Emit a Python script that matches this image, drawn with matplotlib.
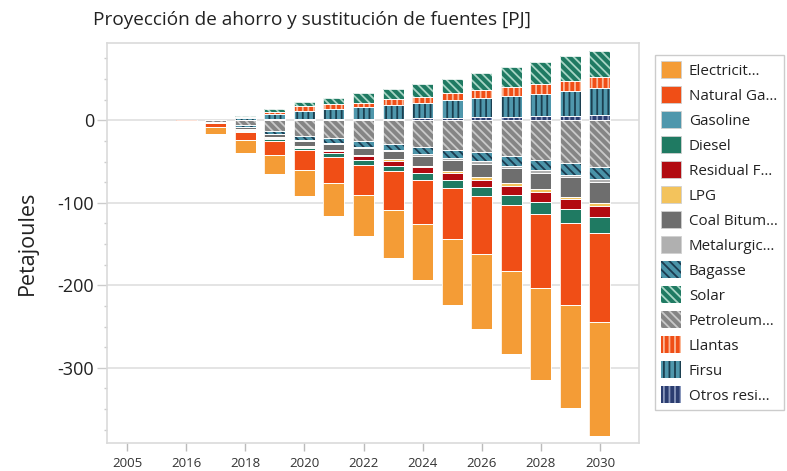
import matplotlib
matplotlib.use("Agg")
import matplotlib.pyplot as plt
from matplotlib.patches import Patch
from matplotlib.ticker import MultipleLocator, FixedLocator
import numpy as np

plt.rcParams['font.family'] = ['Open Sans', 'DejaVu Sans']
plt.rcParams['axes.unicode_minus'] = False
plt.rcParams['hatch.linewidth'] = 1.3

years = ["2005", "2015", "2016", "2017", "2018", "2019", "2020", "2021", "2022",
         "2023", "2024", "2025", "2026", "2027", "2028", "2029", "2030"]

electricity = [0, 0, -1.0, -8.2, -15.2, -23.5, -31.5, -40.0, -49.8, -59.0, -68.7,
               -79.7, -90.2, -100.9, -111.8, -125.1, -137.8]
natural_gas = [0, 0, -0.3, -4.8, -10.0, -16.5, -23.5, -31.5, -37.0, -46.6, -53.4,
               -62.2, -70.3, -79.7, -89.3, -99.5, -107.9]
gasoline = [0] * 17
diesel = [0, 0, 0, -0.6, -1.5, -2.2, -2.5, -5.0, -5.7, -6.9, -8.0,
          -9.7, -11.7, -12.9, -15.3, -16.5, -19.8]
residual = [0, 0, 0, -0.3, -1.2, -1.8, -2.0, -2.4, -4.4, -6.0, -6.7,
            -8.1, -8.5, -10.5, -11.7, -12.1, -12.6]
lpg = [0, 0, 0, -0.1, -0.3, -0.5, -0.8, -1.0, -1.2, -1.8, -2.2,
       -2.4, -2.8, -3.2, -3.3, -3.3, -3.6]
coal = [0, 0, 0, -0.5, -2.5, -3.5, -6.0, -7.0, -9.3, -9.7, -12.3,
        -13.3, -16.2, -18.6, -19.8, -23.4, -25.9]
metalurgic = [0, 0, 0, -0.2, -0.8, -1.0, -1.2, -1.6, -1.3, -1.6, -2.2,
              -2.8, -3.2, -2.8, -4.0, -3.2, -3.6]
bagasse = [0, 0, 0, -0.6, -1.7, -3.4, -5.2, -5.5, -6.6, -6.9, -8.0,
           -10.1, -10.9, -11.4, -12.1, -14.2, -14.5]
solar = [0, 0, 0, 0.1, 0.3, 2.8, 4.6, 7.5, 11.0, 12.0, 16.0,
         17.4, 21.0, 23.8, 27.1, 29.6, 32.3]
petroleum = [0, 0, 0, -1.5, -6.0, -12.7, -18.8, -22.0, -25.3, -29.0, -32.5,
             -35.6, -38.8, -43.6, -47.7, -51.7, -56.6]
llantas = [0, 0, 0, 0.1, 1.2, 3.0, 5.5, 6.0, 6.0, 7.3, 7.6,
           8.9, 9.7, 10.5, 11.3, 12.1, 12.9]
firsu = [0, 0, 0, 0.3, 3.0, 6.5, 10.3, 12.0, 13.7, 16.6, 17.8,
         21.0, 22.7, 25.9, 27.0, 30.7, 33.1]
otros = [0, 0, 0, 0.1, 0.3, 1.0, 1.4, 1.5, 1.8, 1.6, 2.6,
         3.2, 4.0, 4.0, 5.3, 5.3, 6.1]

labels = ["Electricit…", "Natural Ga…", "Gasoline", "Diesel", "Residual F…", "LPG",
          "Coal Bitum…", "Metalurgic…", "Bagasse", "Solar", "Petroleum…",
          "Llantas", "Firsu", "Otros resi…"]
values = [electricity, natural_gas, gasoline, diesel, residual, lpg, coal,
          metalurgic, bagasse, solar, petroleum, llantas, firsu, otros]
faces = ['#F49C36', '#F04E16', '#4F97AC', '#1F7A62', '#B20A10', '#F3C35C',
         '#6E6E6E', '#B0B0B0', '#4A93A8', '#1F7A62', '#858585', '#F04E16',
         '#4F97AC', '#2B3D70']
hatches = [None, None, None, None, None, None, None, None,
           '\\\\\\\\', '\\\\\\\\', '\\\\\\\\', '|||', '|||', '|||']
hatch_colors = [None, None, None, None, None, None, None, None,
                '#1B3B50', '#A8D5C5', '#C9C9C9', '#FAB898', '#1B3F50', '#8A98BC']

fig = plt.figure(figsize=(7.87, 4.71), dpi=100)
ax = fig.add_axes([106.7 / 787, 1 - 443.3 / 471, (639.3 - 106.7) / 787, 400.0 / 471])

x = np.arange(len(years))
width = 0.71
pos_base = np.zeros(len(years))
neg_base = np.zeros(len(years))

for i in reversed(range(len(values))):
    v = np.array(values[i], dtype=float)
    base = np.where(v >= 0, pos_base, neg_base)
    mask = v != 0
    if mask.any():
        kw = dict(linewidth=0)
        if hatches[i]:
            kw.update(hatch=hatches[i], edgecolor=hatch_colors[i])
        ax.bar(x[mask], v[mask], bottom=base[mask], width=width,
               color=faces[i], zorder=3, **kw)
        ax.bar(x[mask], v[mask], bottom=base[mask], width=width,
               facecolor='none', edgecolor='#FFFFFF', linewidth=0.6, zorder=4)
    pos_base = pos_base + np.where(v > 0, v, 0)
    neg_base = neg_base + np.where(v < 0, v, 0)

ax.set_xlim(-0.69, 17.33)
ax.set_ylim(-391.5, 93.3)

ax.set_xticks(x[::2])
ax.set_xticklabels(years[::2], fontsize=9.5, color='#333333')
ax.yaxis.set_major_locator(FixedLocator([-300, -200, -100, 0]))
ax.yaxis.set_minor_locator(MultipleLocator(25))
ax.set_yticklabels(["-300", "-200", "-100", "0"], fontsize=13, color='#222222')
ax.tick_params(axis='x', length=6, color='#BBBBBB', width=1, pad=4)
ax.tick_params(axis='y', which='major', length=7, color='#CCCCCC', width=1, pad=2)
ax.tick_params(axis='y', which='minor', length=2, color='#CCCCCC', width=1)

ax.grid(axis='y', which='major', color='#E2E2E2', linewidth=1.3, zorder=0)
ax.set_axisbelow(True)
for s in ax.spines.values():
    s.set_color('#DADADA')
    s.set_linewidth(1.2)

ax.set_ylabel("Petajoules", fontsize=15.5, color='#222222', labelpad=14)

fig.text(312 / 787, 1 - 20 / 471, "Proyección de ahorro y sustitución de fuentes [PJ]",
         ha='center', va='center', fontsize=13.7, color='#222222')

handles = []
for i in range(len(labels)):
    if hatches[i]:
        handles.append(Patch(facecolor=faces[i], edgecolor=hatch_colors[i],
                             hatch=hatches[i], linewidth=0))
    else:
        handles.append(Patch(facecolor=faces[i], edgecolor='#D0D0D0', linewidth=0.6))

leg = fig.legend(handles, labels, loc='upper left',
                 bbox_to_anchor=(655 / 787, 1 - 55 / 471),
                 fontsize=10.9, frameon=True, fancybox=False, framealpha=1,
                 edgecolor='#CCCCCC', handlelength=1.33, handleheight=1.33,
                 labelspacing=0.5, handletextpad=0.5, borderpad=0.4,
                 borderaxespad=0)
leg.get_frame().set_linewidth(1.0)
for t in leg.get_texts():
    t.set_color('#222222')

fig.savefig("out.png", dpi=100)
